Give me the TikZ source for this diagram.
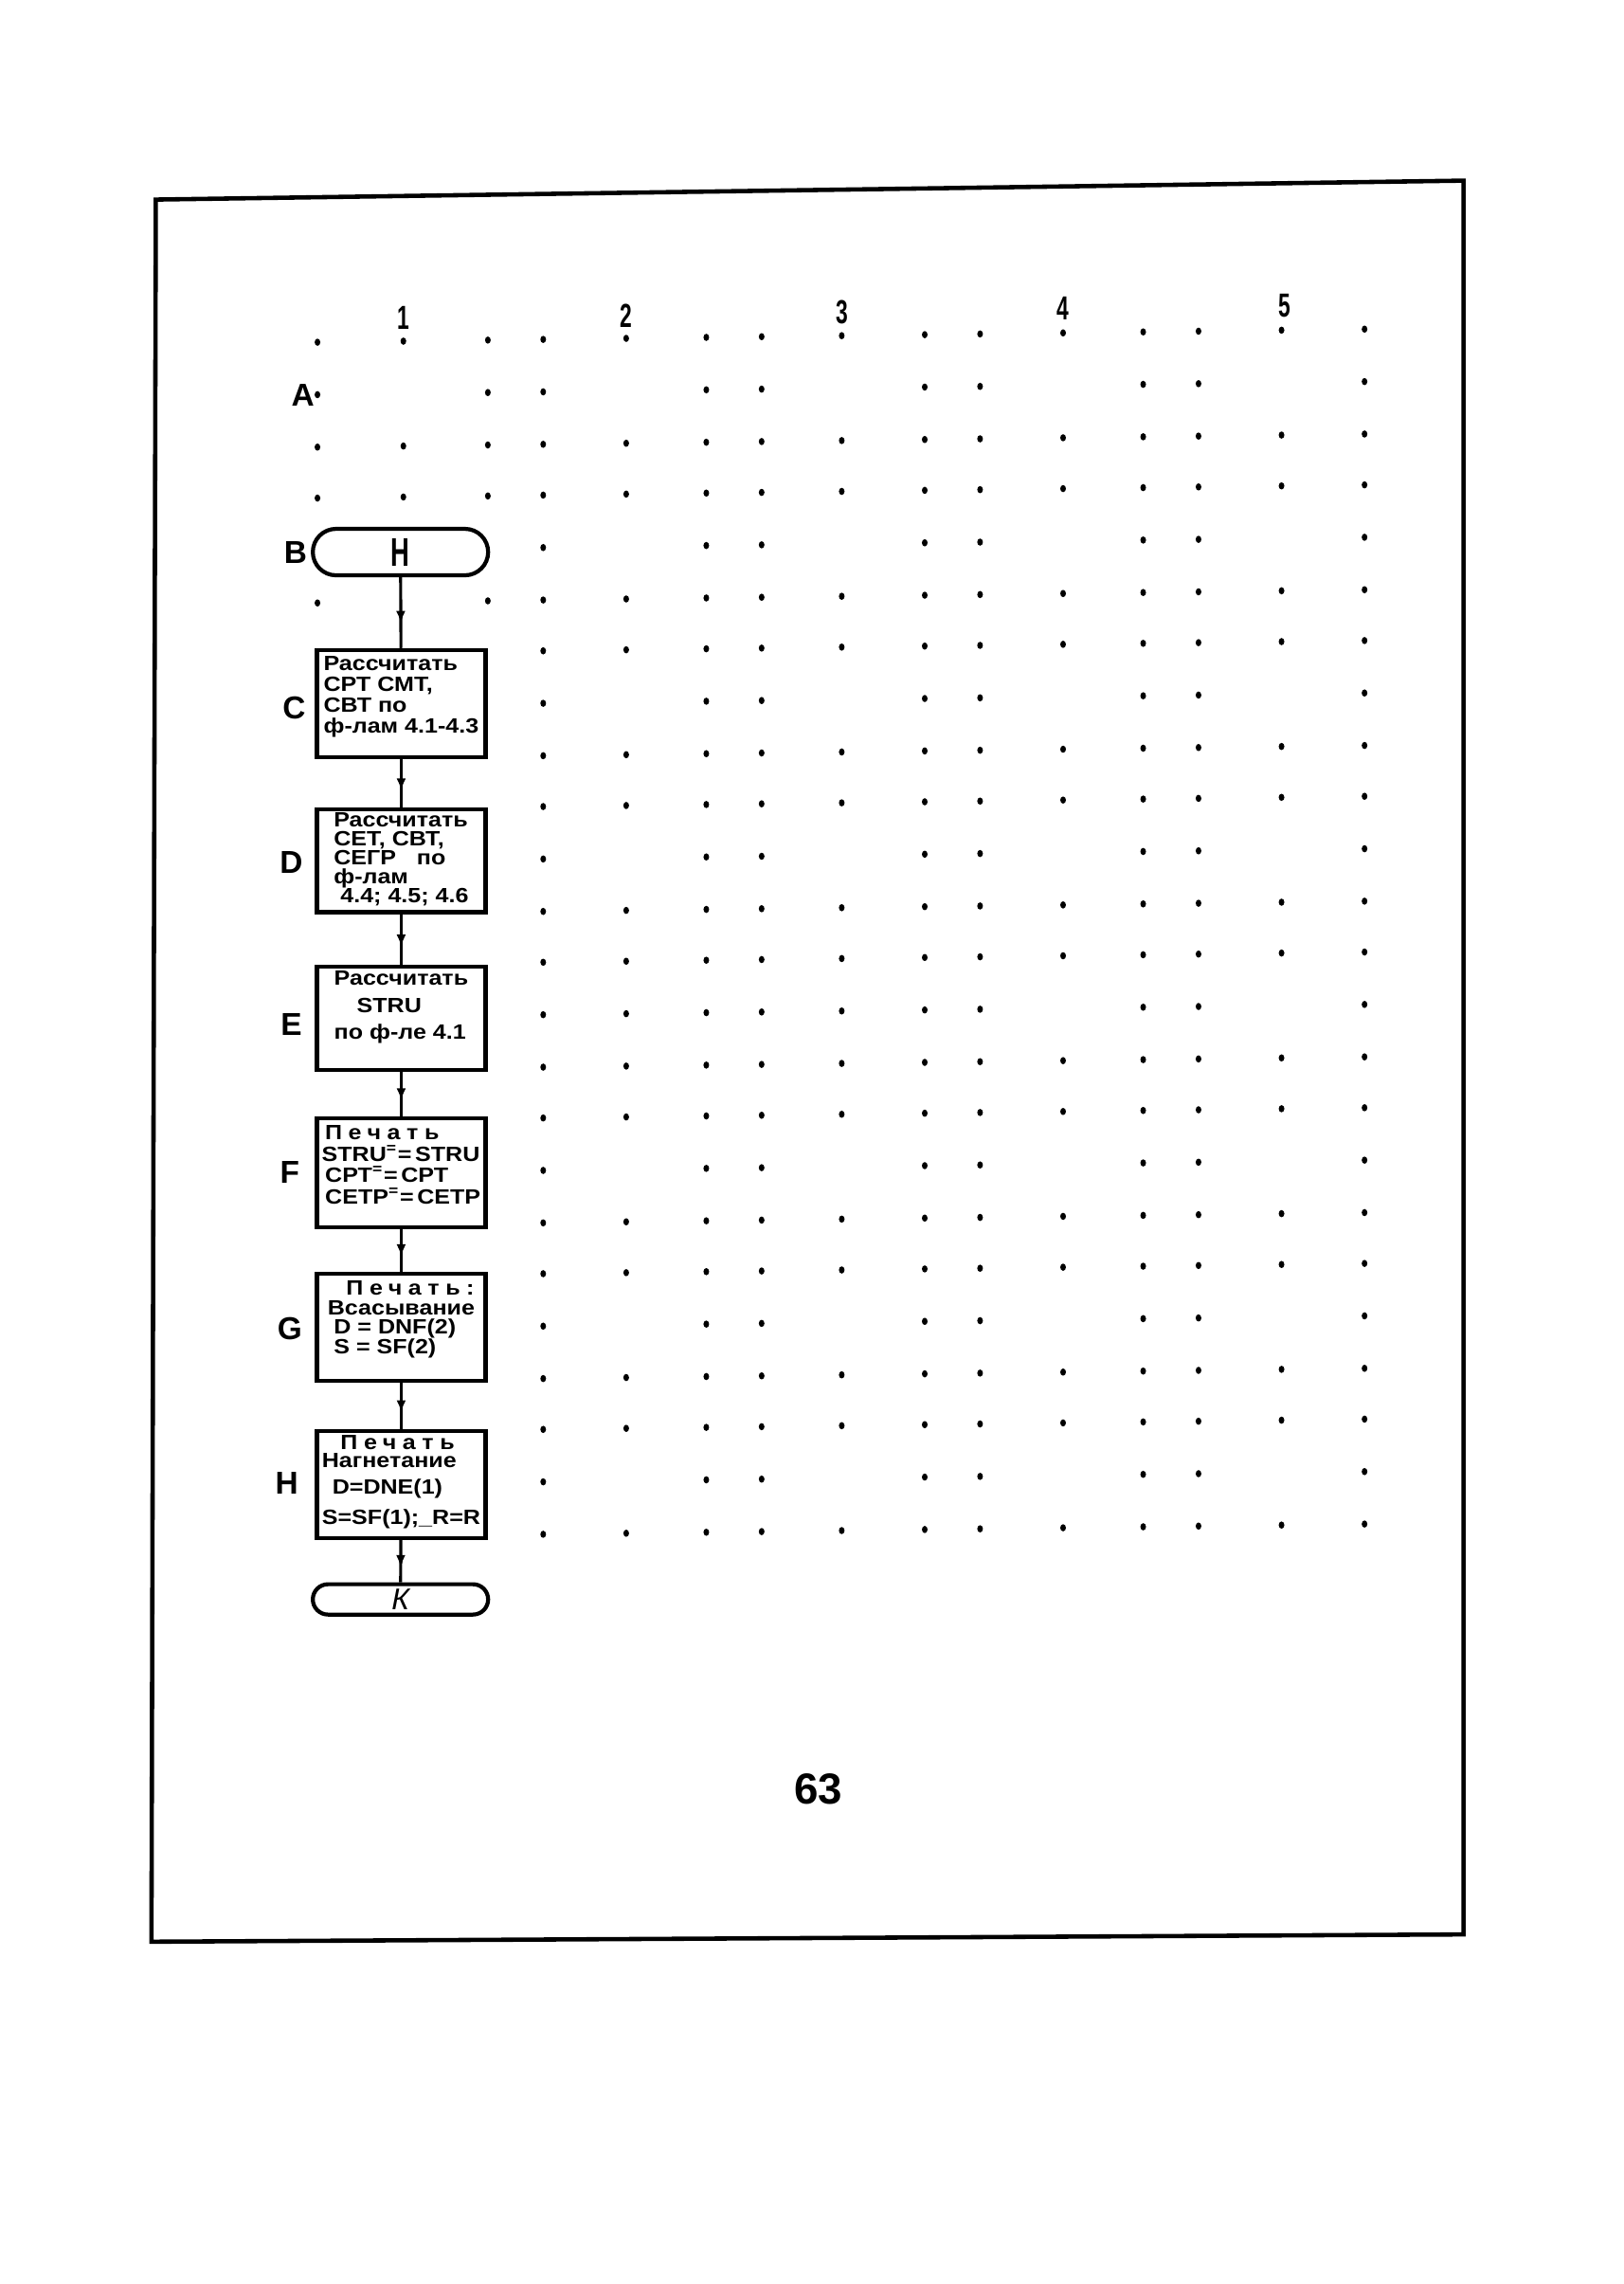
\documentclass[tikz,border=0pt]{standalone}
\usepackage{fontspec}
\setmainfont{Liberation Sans}
\newfontfamily\boxfont{Liberation Sans}[FakeStretch=1.15]
\newfontfamily\narrowfont{Liberation Sans}[FakeStretch=0.65]
\usetikzlibrary{arrows.meta,decorations.markings,shapes.misc,positioning}

% grid dot; #2 is its height at x=373, the sheet is a little skewed
\newcommand{\gdot}[2]{\fill (#1,{#2-0.0125*(#1-373)}) ellipse [x radius=0.03cm, y radius=0.038cm];}
\newcommand{\spaced}[1]{{\addfontfeature{LetterSpace=30}#1}}

\tikzset{
  block/.style={draw, line width=1.2pt, minimum width=1.78cm, minimum height=1.13cm, inner sep=0pt},
  term/.style={draw, line width=1.2pt, rounded rectangle, minimum width=1.85cm, inner sep=0pt},
  txt/.style={font=\boxfont\bfseries\fontsize{6.2}{#1}\selectfont, inner sep=0pt, align=left},
  rowlab/.style={font=\bfseries\fontsize{9.5}{9.5}\selectfont, inner sep=0pt},
  colnum/.style={font=\narrowfont\bfseries\fontsize{10}{10}\selectfont, inner sep=0pt},
  flow/.style={draw, line width=.9pt, postaction={decorate},
    decoration={markings, mark=at position .65 with {\arrow{Latex[length=1.3mm,width=1mm]}}}}
}

\begin{document}
\begin{tikzpicture}[x=0.01536cm, y=-0.01536cm]
  \useasboundingbox (0,0) rectangle (1115,1568);

  % sheet frame
  \draw[line width=1.3pt] (107,137) -- (1005,124) -- (1005,1328) -- (104,1333) -- cycle;

  % dot grid, rows A..H, columns 2..5
  \foreach \r in {0,...,7}{
    \foreach \j in {-36,36}{
      \foreach \x in {373,430,485,523,578,635,673,730,785,823,880,937}{\gdot{\x}{269+106.9*\r+\j}}
    }
    \foreach \x in {373,485,523,635,673,785,823,937}{\gdot{\x}{269+106.9*\r}}
  }
  % column 1 above the chart, and two more in row E
  \foreach \x/\y in {218/233,277/233,335/233,218/269,335/269,218/305,277/305,335/305,
                     218/340,277/340,335/340,218/412,335/412,430/696.6,578/696.6}{\gdot{\x}{\y}}

  \foreach \k/\x/\y in {1/277/218,2/430/217,3/578/214,4/730/212,5/882/210}
    \node[colnum] (n\k) at (\x,\y) {\k};
  \foreach \l/\x/\y in {A/208/271,B/203/379,C/202/486,D/200/592,E/200/703,F/199/805,G/199/912,H/197/1018}
    \node[rowlab] (l\l) at (\x,\y) {\l};

  \node[term, minimum height=0.49cm, font=\narrowfont\bfseries\fontsize{12}{12}\selectfont] (B) at (275,379) {Н};
  \node[block] (C) at (275.5,483) {};
  \node[block, minimum height=1.08cm] (D) at (275.5,591) {};
  \node[block, minimum height=1.09cm] (E) at (275.5,699) {};
  \node[block, minimum height=1.15cm] (F) at (275.5,805) {};
  \node[block] (G) at (275.5,911) {};
  \node[block] (H) at (275.5,1019) {};
  \node[term, minimum height=0.32cm, font=\itshape\fontsize{9}{9}\selectfont] (K) at (275,1098) {К};

  \node[txt=6.3pt, below=2.2pt of C.north] (Ct) {Рассчитать\\СРТ СМТ,\\СВТ по\\ф-лам 4.1-4.3};
  \node[txt=5.7pt, below=1.2pt of D.north] (Dt) {Рассчитать\\СЕТ, СВТ,\\СЕГР\quad по\\ф-лам\\\hspace*{2pt}4.4; 4.5; 4.6};
  \node[txt=8.1pt, below=1.8pt of E.north] (Et) {Рассчитать\\\hspace*{1.1em}STRU\\по ф-ле 4.1};
  \node[txt=6.4pt, below=2.6pt of F.north] (Ft) {\hspace*{1pt}\spaced{Печать}\\STRU\textsuperscript{=}=\,STRU\\\hspace*{1pt}СРТ\textsuperscript{=}=\,СРТ\\\hspace*{1pt}СЕТР\textsuperscript{=}=\,СЕТР};
  \node[txt=5.9pt, below=2.6pt of G.north] (Gt) {\hspace*{0.9em}\spaced{Печать:}\\Всасывание\\\hspace*{0.3em}D = DNF(2)\\\hspace*{0.3em}S = SF(2)};
  \node[txt=5.4pt, below=1.8pt of H.north] (Ht) {\hspace*{0.9em}\spaced{Печать}\\Нагнетание\\[2.4pt]\hspace*{0.5em}D=DNE(1)\\[2.4pt]S=SF(1);\_R=R};

  \begin{scope}[every edge/.style={flow}]
    \path (B) edge (C);
    \path (C) edge (D);
    \path (D) edge (E);
    \path (E) edge (F);
    \path (F) edge (G);
    \path (G) edge (H);
    \path (H) edge (K);
  \end{scope}

  \node[font=\bfseries\fontsize{13}{13}\selectfont, inner sep=0pt] (page) at (562,1228) {63};
\end{tikzpicture}
\end{document}
